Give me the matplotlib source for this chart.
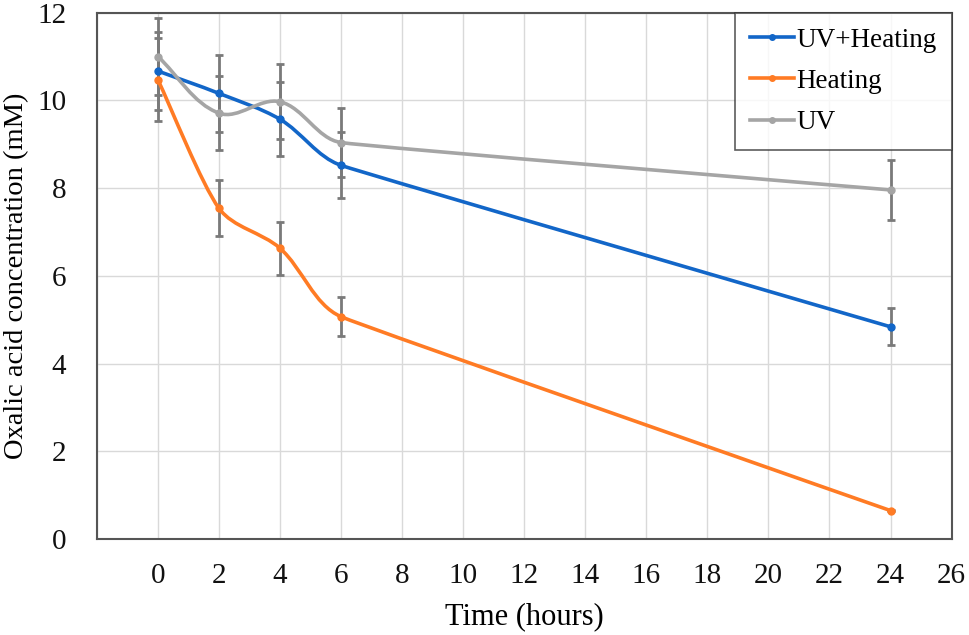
import numpy as np
import matplotlib
matplotlib.use("Agg")
import matplotlib.pyplot as plt
from matplotlib.path import Path
from matplotlib.patches import PathPatch

plt.rcParams['font.family'] = ['Liberation Serif', 'DejaVu Serif']

time_h = [0, 2, 4, 6, 24]
uv_heat = [10.67, 10.16, 9.57, 8.52, 4.84]
uv_heat_err = [0.89, 0.87, 0.84, 0.75, 0.42]
heat = [10.47, 7.54, 6.63, 5.07, 0.65]
heat_err = [0.95, 0.64, 0.60, 0.45, 0.02]
uv = [11.0, 9.71, 9.97, 9.04, 7.96]
uv_err = [0.88, 0.84, 0.86, 0.78, 0.68]

names = ["UV+Heating", "Heating", "UV"]
colors = ["#1266C8", "#FF7B24", "#A5A5A5"]

# rough pixels per data unit, so the smoothing is done in screen-like space
SX, SY = 30.5, 43.9


def smooth_path(x, y):
    p = np.column_stack([np.array(x) * SX, np.array(y) * SY]).astype(float)
    n = len(p)
    tang = []
    for i in range(n):
        a = p[i - 1] if i > 0 else p[i]
        b = p[i + 1] if i < n - 1 else p[i]
        d = b - a
        tang.append(d / np.hypot(*d))
    verts = [p[0]]
    codes = [Path.MOVETO]
    for i in range(n - 1):
        L = np.hypot(*(p[i + 1] - p[i]))
        k = min(L, 90) / 3
        c1 = p[i] + tang[i] * k
        c2 = p[i + 1] - tang[i + 1] * k
        verts += [c1, c2, p[i + 1]]
        codes += [Path.CURVE4] * 3
    verts = np.array(verts) / [SX, SY]
    return Path(verts, codes)


fig = plt.figure(figsize=(9.69, 6.35), dpi=100)
ax = fig.add_axes([0.100, 0.151, 0.882, 0.829])

for vals, errs in zip([uv_heat, heat, uv], [uv_heat_err, heat_err, uv_err]):
    ax.errorbar(time_h, vals, yerr=errs, fmt='none', ecolor='#7A7A7A', elinewidth=2,
                capsize=3, capthick=2, zorder=2)

handles = []
for vals, name, c in zip([uv_heat, heat, uv], names, colors):
    ax.add_patch(PathPatch(smooth_path(time_h, vals), facecolor='none', edgecolor=c,
                           lw=2.6, zorder=3, capstyle='round'))
    ax.plot(time_h, vals, color=c, marker='o', markersize=5, linestyle='none', zorder=4)
    handles.append(ax.plot([], [], color=c, lw=2.6, marker='o', markersize=4, label=name)[0])

ax.set_xlim(-2, 26)
ax.set_ylim(0, 12)
ax.set_xticks(range(0, 27, 2))
ax.set_yticks(range(0, 13, 2))
ax.set_xticks(range(-2, 27, 2), minor=True)
ax.grid(True, which='both', color='#D9D9D9', lw=1)
ax.set_axisbelow(True)
ax.tick_params(length=0, labelsize=21, colors='#111111')
ax.tick_params(axis='x', pad=17)
ax.tick_params(axis='y', pad=22)
ax.tick_params(which='minor', length=0)
for s in ax.spines.values():
    s.set_color('#555555')
    s.set_linewidth(1.5)

ax.set_xlabel("Time (hours)", fontsize=22, labelpad=10)
ax.set_ylabel("Oxalic acid concentration (mM)", fontsize=20.5, labelpad=6)

leg = ax.legend(handles=handles, loc='upper right', fontsize=19.5, frameon=True, fancybox=False,
                borderaxespad=0, handlelength=1.6, handletextpad=0.1, borderpad=0.55,
                labelspacing=0.6)
leg.get_frame().set_edgecolor('#333333')
leg.get_frame().set_linewidth(1.2)

fig.savefig("out.png", dpi=100)
